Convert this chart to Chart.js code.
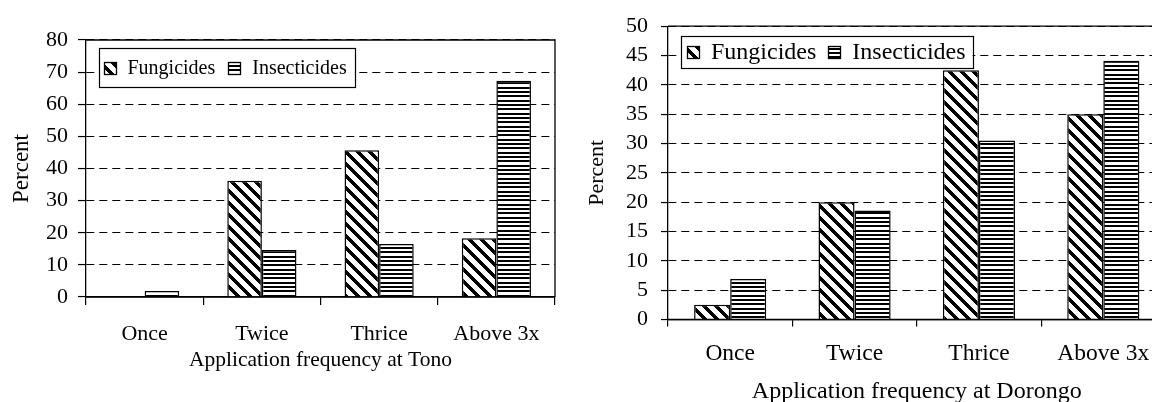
<!DOCTYPE html>
<html><head><meta charset="utf-8">
<script src="https://cdn.jsdelivr.net/npm/chart.js@4.4.1/dist/chart.umd.min.js"></script>
<style>
html,body{margin:0;padding:0;background:#fff;width:1152px;height:402px;overflow:hidden;position:relative;}
canvas{position:absolute;top:0;}
#c1{left:0;}
#c2{left:576px;}
</style></head><body>
<canvas id="c1" width="576" height="402"></canvas>
<canvas id="c2" width="620" height="406"></canvas>
<script>
// ---- data ----
const categories = ['Once', 'Twice', 'Thrice', 'Above 3x'];
const seriesNames = ['Fungicides', 'Insecticides'];
const tonoFungicides = [0, 36.2, 45.7, 18.3];
const tonoInsecticides = [1.9, 14.6, 16.5, 67.3];
const dorongoFungicides = [2.5, 20.0, 42.5, 35.0];
const dorongoInsecticides = [6.9, 18.6, 30.5, 44.1];
const tonoYTicks = [0, 10, 20, 30, 40, 50, 60, 70, 80];
const dorongoYTicks = [0, 5, 10, 15, 20, 25, 30, 35, 40, 45, 50];
const tonoXTitle = 'Application frequency at Tono';
const dorongoXTitle = 'Application frequency at Dorongo';
const yTitle = 'Percent';

const FONT = "'Liberation Serif', 'Times New Roman', serif";
Chart.defaults.font.family = FONT;
Chart.defaults.color = '#000';

function makeDiag(ctx) {
  const n = 12, c = document.createElement('canvas');
  c.width = n; c.height = n;
  const x = c.getContext('2d');
  const img = x.createImageData(n, n);
  for (let j = 0; j < n; j++) for (let i = 0; i < n; i++) {
    const d = ((i - j) % n + n) % n;
    const v = d < 5 ? 0 : 255;
    const k = (j * n + i) * 4;
    img.data[k] = img.data[k + 1] = img.data[k + 2] = v; img.data[k + 3] = 255;
  }
  x.putImageData(img, 0, 0);
  return ctx.createPattern(c, 'repeat');
}
function makeHoriz(ctx) {
  const rows = [0,0,1,1,0,0,1,1,1,0,0,1,1];
  const c = document.createElement('canvas');
  c.width = 4; c.height = rows.length;
  const x = c.getContext('2d');
  rows.forEach((r, j) => { x.fillStyle = r ? '#fff' : '#000'; x.fillRect(0, j, 4, 1); });
  return ctx.createPattern(c, 'repeat');
}

const frameLegend = {
  id: 'frameLegend',
  afterDraw(chart, args, o) {
    const { ctx, chartArea: a } = chart;
    ctx.save();
    ctx.setLineDash([]);
    ctx.strokeStyle = '#000';
    ctx.lineWidth = 1.3;
    ctx.beginPath();
    ctx.moveTo(a.left, a.top); ctx.lineTo(a.right, a.top); ctx.lineTo(a.right, a.bottom);
    ctx.moveTo(a.left, a.bottom); ctx.lineTo(a.right, a.bottom);
    ctx.stroke();
    // legend
    ctx.font = o.fontSize + 'px ' + FONT;
    const items = chart.data.datasets.map(d => ({ text: d.label, fill: d.backgroundColor, w: ctx.measureText(d.label).width }));
    let w = o.padL + o.padR;
    items.forEach((it, i) => { w += o.sw + o.gap1 + it.w + (i ? o.gap2 : 0); });
    const x0 = Math.round(a.left + o.dx), y0 = Math.round(a.top + o.dy);
    ctx.fillStyle = '#fff';
    ctx.fillRect(x0, y0, w, o.h);
    ctx.lineWidth = 1.2;
    ctx.strokeRect(x0 + 0.5, y0 + 0.5, Math.round(w), o.h);
    let x = x0 + o.padL;
    const cy = y0 + o.h / 2;
    items.forEach((it, i) => {
      if (i) x += o.gap2;
      const sy = Math.round(cy - o.sw / 2);
      ctx.fillStyle = it.fill;
      ctx.fillRect(Math.round(x), sy, o.sw, o.sw);
      ctx.strokeStyle = '#000'; ctx.lineWidth = 1.3;
      ctx.strokeRect(Math.round(x) + 0.5, sy + 0.5, o.sw, o.sw);
      x += o.sw + o.gap1;
      ctx.fillStyle = '#000'; ctx.textBaseline = 'middle'; ctx.textAlign = 'left';
      ctx.fillText(it.text, x, cy + o.textDy);
      x += it.w;
    });
    ctx.restore();
  }
};

function buildChart(id, cfg) {
  const canvas = document.getElementById(id);
  const ctx = canvas.getContext('2d');
  const diag = makeDiag(ctx), horiz = makeHoriz(ctx);
  return new Chart(ctx, {
    type: 'bar',
    data: {
      labels: categories,
      datasets: [
        { label: seriesNames[0], data: cfg.fung, backgroundColor: diag, borderColor: '#000', borderWidth: 1.5, borderSkipped: 'start' },
        { label: seriesNames[1], data: cfg.insect, backgroundColor: horiz, borderColor: '#000', borderWidth: 1.5, borderSkipped: 'start' }
      ]
    },
    options: {
      responsive: false, animation: false, devicePixelRatio: 1,
      layout: { padding: { left: 0, top: cfg.area.top, right: cfg.width - cfg.area.right, bottom: 0 } },
      datasets: { bar: { categoryPercentage: cfg.catPct, barPercentage: 1 } },
      plugins: { legend: { display: false }, tooltip: { enabled: false }, title: { display: false }, frameLegend: cfg.legend },
      scales: {
        x: {
          offset: true,
          grid: { offset: true, drawOnChartArea: false, drawTicks: true, tickLength: cfg.xTickLen, color: '#000', lineWidth: 1.2 },
          border: { display: true, color: '#000', width: 1.3 },
          ticks: { font: { size: cfg.xFont }, padding: cfg.xPad, maxRotation: 0, autoSkip: false, color: '#000' },
          title: { display: true, text: cfg.xTitle, font: { size: cfg.xTitleFont }, color: '#000', padding: { top: 0, bottom: cfg.xTitlePad } },
          afterFit(s) { s.height = cfg.height - cfg.area.bottom; }
        },
        y: {
          min: cfg.yTicks[0], max: cfg.yTicks[cfg.yTicks.length - 1],
          afterBuildTicks(s) { s.ticks = cfg.yTicks.map(v => ({ value: v })); },
          ticks: { font: { size: cfg.yFont }, padding: cfg.yPad, color: '#000', autoSkip: false },
          grid: { color: '#000', lineWidth: 1.1, drawTicks: true, tickLength: cfg.yTickLen, tickColor: '#000', tickWidth: 1.2, tickBorderDash: [] },
          border: { display: true, color: '#000', width: 1.3, dash: [8, 5] },
          title: { display: true, text: yTitle, font: { size: cfg.yTitleFont }, color: '#000', padding: { top: cfg.yTitlePad, bottom: 0 } },
          afterFit(s) { s.width = cfg.area.left; }
        }
      }
    },
    plugins: [frameLegend]
  });
}

buildChart('c1', {
  fung: tonoFungicides, insect: tonoInsecticides, yTicks: tonoYTicks, xTitle: tonoXTitle,
  width: 576, height: 402,
  area: { left: 86, top: 40, right: 555, bottom: 297 },
  catPct: 0.59,
  xTickLen: 8, xFont: 22, xPad: 16, xTitleFont: 21.5, xTitlePad: 29,
  yFont: 22, yPad: 10, yTickLen: 8, yTitleFont: 23, yTitlePad: 8,
  legend: { dx: 13, dy: 8, h: 39, fontSize: 20, sw: 12, padL: 4.5, gap1: 12, gap2: 13, padR: 8, textDy: 1 }
});

buildChart('c2', {
  fung: dorongoFungicides, insect: dorongoInsecticides, yTicks: dorongoYTicks, xTitle: dorongoXTitle,
  width: 620, height: 406,
  area: { left: 92, top: 24, right: 589.5, bottom: 319.5 },
  catPct: 0.58,
  xTickLen: 7, xFont: 23.5, xPad: 13, xTitleFont: 24, xTitlePad: 0,
  yFont: 22, yPad: 13, yTickLen: 7, yTitleFont: 22, yTitlePad: 8,
  legend: { dx: 13, dy: 10, h: 32, fontSize: 24, sw: 12, padL: 6, gap1: 12, gap2: 12, padR: 7, textDy: 1 }
});
</script>
</body></html>
